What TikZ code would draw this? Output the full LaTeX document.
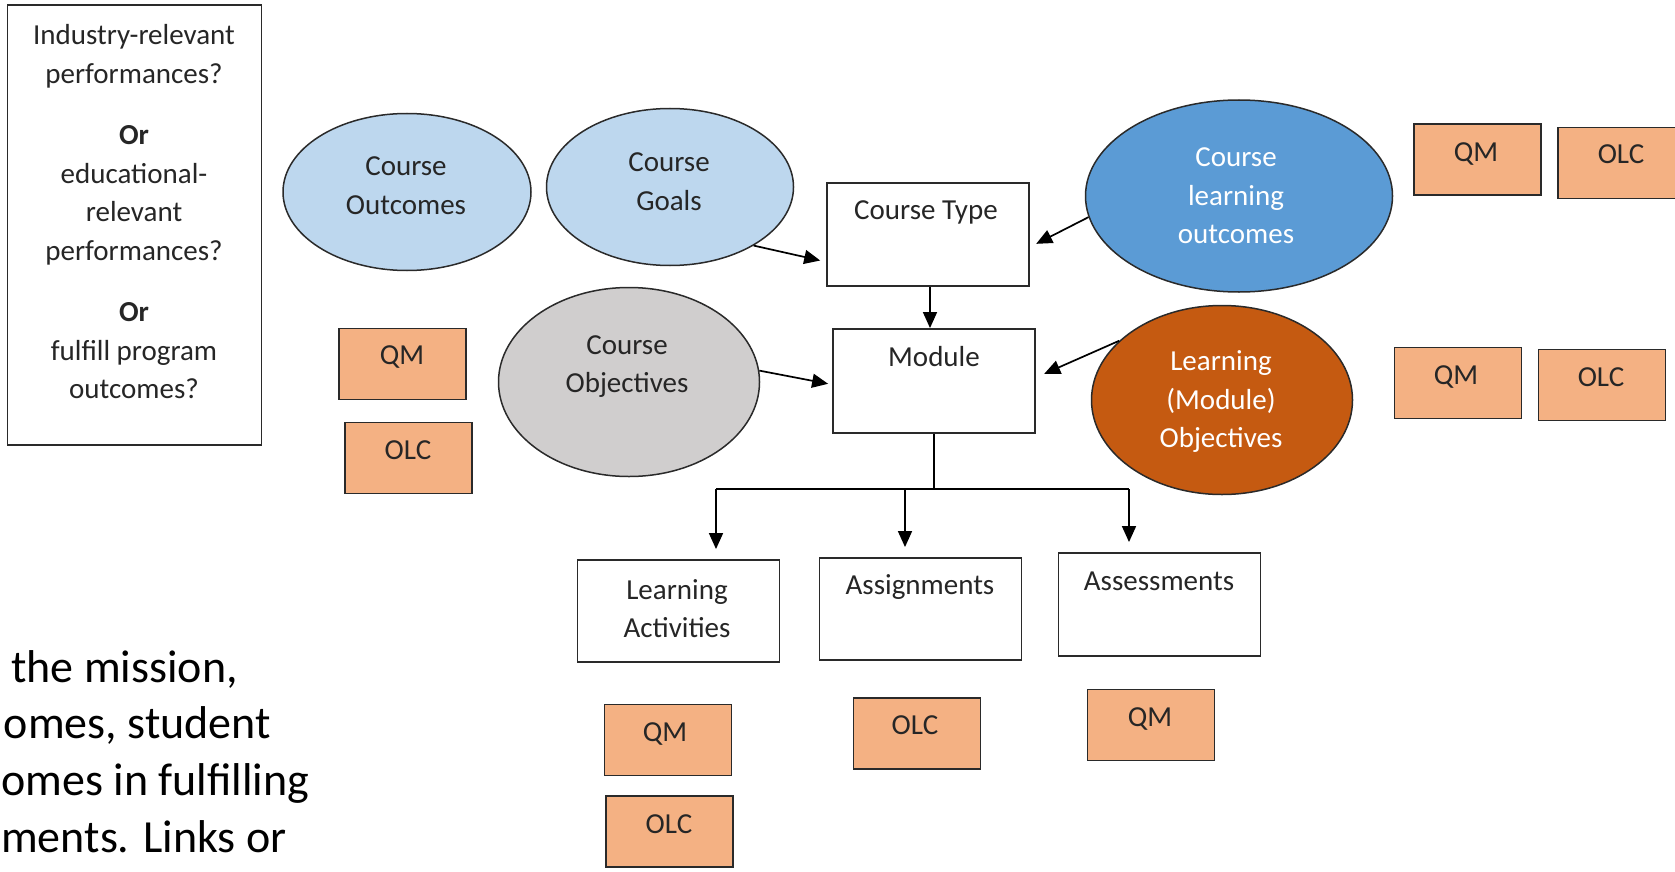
\documentclass[tikz,border=0pt]{standalone}
\usepackage{fontspec}
\setmainfont{Carlito}
\usetikzlibrary{shapes.geometric,arrows.meta,calc}
\definecolor{lblue}{HTML}{BDD7EE}
\definecolor{mblue}{HTML}{5B9BD5}
\definecolor{rust}{HTML}{C55A11}
\definecolor{lgray}{HTML}{D0CECE}
\definecolor{peach}{HTML}{F4B183}
\definecolor{outl}{HTML}{2A2A2A}
\begin{document}
\begin{tikzpicture}[x=1pt,y=-1pt,
  txt/.style={font=\fontsize{29}{38.5}\selectfont, align=center, inner sep=0pt, text=black!85},
  wtxt/.style={txt, text=white},
  oval/.style={ellipse, draw=outl, line width=1.5pt, inner sep=0pt},
  wbox/.style={draw=outl, line width=1.9pt, fill=white, inner sep=0pt, minimum width=202pt, minimum height=102pt},
  obox/.style={draw=outl, line width=1.9pt, fill=peach, inner sep=0pt, minimum width=127pt, minimum height=71pt},
  arr/.style={line width=1.7pt, draw=black, -{Triangle[length=16pt,width=14pt]}},
  conn/.style={line width=1.7pt, draw=black},
  big/.style={font=\fontsize{46}{56.7}\selectfont, inner sep=0pt, text=black}
]
\fill[white] (0,0) rectangle (1675,872);
\useasboundingbox (0,0) rectangle (1675,872);

% question box
\node[draw=outl, line width=1.7pt, minimum width=254pt, minimum height=440pt, inner sep=0pt] (qbox) at (134.5,225) {};
\node[txt] (qtext) at (134,212) {Industry-relevant\\performances?\\[23pt]\textbf{Or}\\educational-\\relevant\\performances?\\[23pt]\textbf{Or}\\fulfill program\\outcomes?};

% ellipses
\node[oval, fill=lblue, minimum width=248pt, minimum height=157pt] (co) at (407,192) {};
\node[txt] (cot) at (406,185.5) {Course\\Outcomes};
\node[oval, fill=lblue, minimum width=247pt, minimum height=157pt] (cg) at (670,187) {};
\node[txt] (cgt) at (669,181.5) {Course\\Goals};
\node[oval, fill=lgray, minimum width=261pt, minimum height=189pt] (cob) at (629,382) {};
\node[txt] (cobt) at (627,366.5) {Course\\Objectives};
\node[oval, fill=mblue, minimum width=307pt, minimum height=192pt] (clo) at (1239,196) {};
\node[wtxt] (clot) at (1236,196) {Course\\learning\\outcomes};
\node[oval, fill=rust, minimum width=261pt, minimum height=189pt] (lmo) at (1222,400) {};
\node[wtxt] (lmot) at (1221,402) {Learning\\(Module)\\Objectives};

% white boxes
\node[wbox, minimum height=103pt] (ct) at (928,234.5) {};
\node[txt, anchor=base] (ctt) at (926,219) {Course Type};
\node[wbox, minimum height=104pt] (mod) at (934,381) {};
\node[txt, anchor=base] (modt) at (934,366) {Module};
\node[wbox] (la) at (678.5,611) {};
\node[txt] (lat) at (677,608.5) {Learning\\Activities};
\node[wbox] (asg) at (920.5,609) {};
\node[txt, anchor=base] (asgt) at (920,594) {Assignments};
\node[wbox, minimum height=103pt] (ass) at (1159.5,604.5) {};
\node[txt, anchor=base] (asst) at (1159,590) {Assessments};

% orange boxes
\node[obox] (q1) at (1477.5,159.5) {};
\node[txt, anchor=base] at (1476,161) {QM};
\node[obox] (o1) at (1621.5,163) {};
\node[txt, anchor=base] at (1621,163) {OLC};
\node[obox] (q2) at (1458,383) {};
\node[txt, anchor=base] at (1456,384) {QM};
\node[obox] (o2) at (1602,385) {};
\node[txt, anchor=base] at (1601,386) {OLC};
\node[obox] (q3) at (402.5,364) {};
\node[txt, anchor=base] at (402,364) {QM};
\node[obox] (o3) at (408.5,458) {};
\node[txt, anchor=base] at (408,459) {OLC};
\node[obox] (q4) at (668,740) {};
\node[txt, anchor=base] at (665,741) {QM};
\node[obox] (o4) at (669.5,831.5) {};
\node[txt, anchor=base] at (669,833) {OLC};
\node[obox] (o5) at (917,733.5) {};
\node[txt, anchor=base] at (915,734) {OLC};
\node[obox] (q5) at (1151,725) {};
\node[txt, anchor=base] at (1150,726) {QM};

% connectors
\draw[arr, shorten >=6pt] (cg.-35) -- (ct.195);
\draw[arr, shorten >=4pt] (cob.5) -- (mod.182);
\draw[arr] ($(ct.south)+(2,0)$) -- ($(mod.north)+(-4,0)$);
\draw[arr, shorten >=7pt] (clo.188) -- (ct.-7);
\draw[arr, shorten >=9pt] (lmo.150) -- (mod.2);

\coordinate (jm) at (935,489);
\coordinate (j1) at (716,489);
\coordinate (j2) at (905,489);
\coordinate (j3) at (1129,489);
\draw[conn] (mod.south) -- (mod.south |- jm);
\draw[conn] (j1) -- (j3);
\draw[arr, shorten >=10pt] (j1) -- (j1 |- la.north);
\draw[arr, shorten >=10pt] (j2) -- (j2 |- asg.north);
\draw[arr, shorten >=10pt] (j3) -- (j3 |- ass.north);

% partial text at bottom left
\node[big, anchor=base west] (t1) at (11,682) {the mission,};
\node[big, anchor=base east] (t2) at (271,738) {omes, student};
\node[big, anchor=base west] (t3) at (1,795) {omes in fulfilling};
\node[big, anchor=base west] (t4) at (1,852) {ments. Links or};
\end{tikzpicture}
\end{document}
